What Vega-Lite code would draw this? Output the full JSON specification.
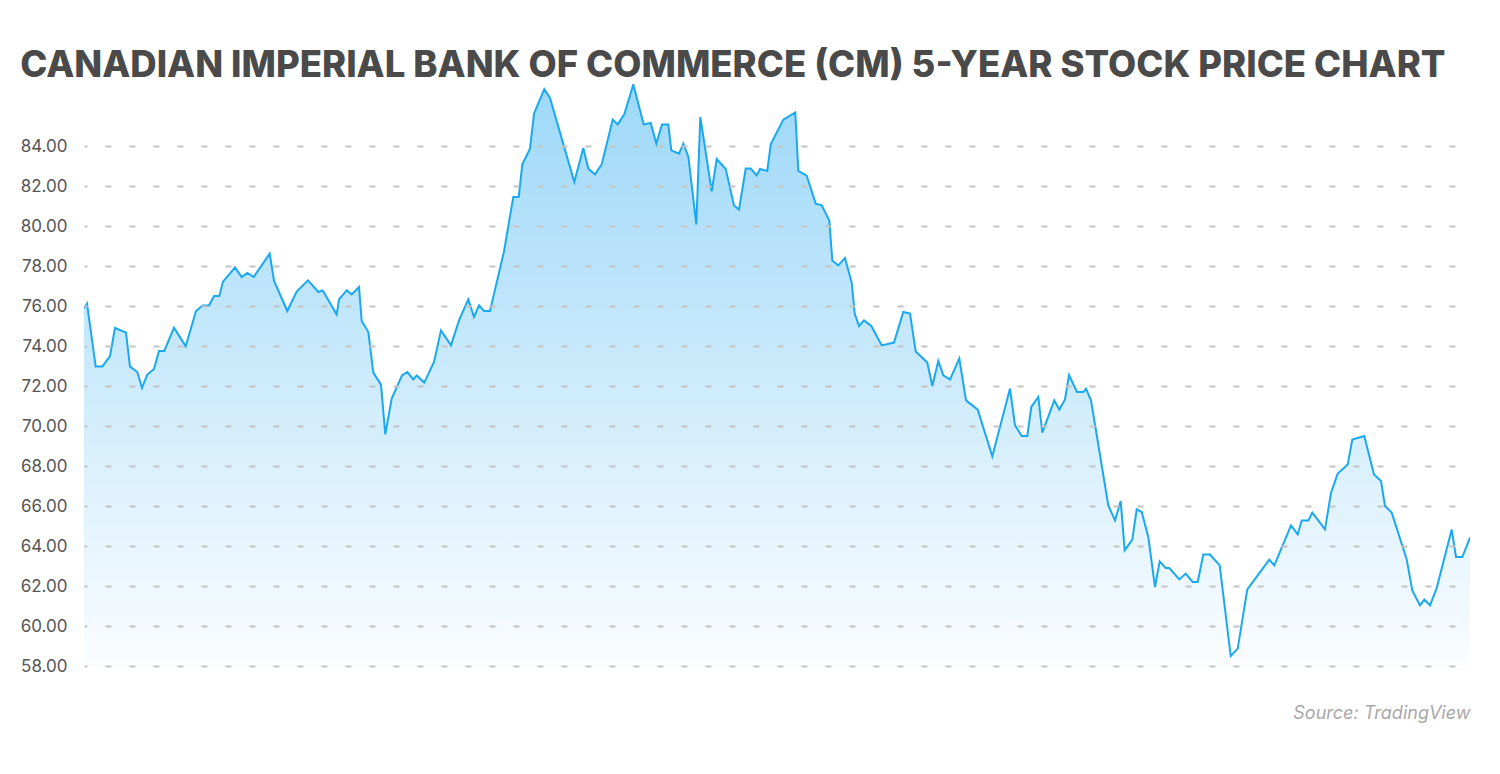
{
  "$schema": "https://vega.github.io/schema/vega-lite/v6.json",
  "autosize": {"type": "none"},
  "width": 1386,
  "height": 582,
  "padding": {"left": 84, "top": 84, "right": 30, "bottom": 108},
  "background": "#ffffff",
  "title": {
    "text": "CANADIAN IMPERIAL BANK OF COMMERCE (CM) 5-YEAR STOCK PRICE CHART",
    "anchor": "start",
    "frame": "bounds",
    "font": "Inter",
    "fontSize": 36.5,
    "fontWeight": 800,
    "color": "#4a4a4a",
    "offset": 0
  },
  "config": {
    "view": {"stroke": null},
    "axis": {"labelFont": "Inter", "titleFont": "Inter"}
  },
  "data": {
    "values": [
      {"t": 84, "price": 75.87}, {"t": 87, "price": 76.12}, {"t": 95.7, "price": 72.97}, {"t": 102.3, "price": 72.97},
      {"t": 110, "price": 73.5}, {"t": 115, "price": 74.9}, {"t": 126, "price": 74.67}, {"t": 130, "price": 72.97},
      {"t": 137.3, "price": 72.7}, {"t": 142, "price": 71.9}, {"t": 147.3, "price": 72.57}, {"t": 154, "price": 72.85},
      {"t": 159, "price": 73.75}, {"t": 164.3, "price": 73.75}, {"t": 174, "price": 74.92}, {"t": 185.7, "price": 73.98},
      {"t": 196, "price": 75.75}, {"t": 202.7, "price": 76.03}, {"t": 209, "price": 76.03}, {"t": 214, "price": 76.5},
      {"t": 219.3, "price": 76.5}, {"t": 223, "price": 77.22}, {"t": 235, "price": 77.93}, {"t": 241.7, "price": 77.45},
      {"t": 247.3, "price": 77.65}, {"t": 253.7, "price": 77.45}, {"t": 269.7, "price": 78.62}, {"t": 274, "price": 77.27},
      {"t": 287.3, "price": 75.75}, {"t": 296.7, "price": 76.72}, {"t": 308, "price": 77.28}, {"t": 318.3, "price": 76.7},
      {"t": 322.7, "price": 76.78}, {"t": 336.7, "price": 75.57}, {"t": 339, "price": 76.33}, {"t": 346.7, "price": 76.78},
      {"t": 351.7, "price": 76.58}, {"t": 359, "price": 76.95}, {"t": 361.7, "price": 75.25}, {"t": 368.3, "price": 74.7},
      {"t": 373.3, "price": 72.67}, {"t": 381, "price": 72.07}, {"t": 385.3, "price": 69.58}, {"t": 391.7, "price": 71.37},
      {"t": 402, "price": 72.53}, {"t": 407.3, "price": 72.7}, {"t": 413.3, "price": 72.33}, {"t": 416.7, "price": 72.53},
      {"t": 424.3, "price": 72.17}, {"t": 434, "price": 73.2}, {"t": 441, "price": 74.78}, {"t": 451, "price": 74.03},
      {"t": 459, "price": 75.28}, {"t": 468.3, "price": 76.33}, {"t": 474, "price": 75.45}, {"t": 479, "price": 76.03},
      {"t": 484, "price": 75.75}, {"t": 490, "price": 75.75}, {"t": 504, "price": 78.73}, {"t": 513.3, "price": 81.45},
      {"t": 518.7, "price": 81.45}, {"t": 522.3, "price": 83.08}, {"t": 530, "price": 83.87}, {"t": 534, "price": 85.62},
      {"t": 544.3, "price": 86.84}, {"t": 550, "price": 86.4}, {"t": 574.3, "price": 82.2}, {"t": 583.3, "price": 83.9},
      {"t": 588.3, "price": 82.87}, {"t": 595, "price": 82.58}, {"t": 601.7, "price": 83.08}, {"t": 612.7, "price": 85.32},
      {"t": 617.7, "price": 85.08}, {"t": 624.3, "price": 85.58}, {"t": 633.3, "price": 87.08}, {"t": 643.7, "price": 85.08},
      {"t": 650.7, "price": 85.15}, {"t": 656.3, "price": 84.12}, {"t": 662, "price": 85.08}, {"t": 668.3, "price": 85.08},
      {"t": 671.3, "price": 83.78}, {"t": 679, "price": 83.62}, {"t": 683.3, "price": 84.12}, {"t": 688.3, "price": 83.48},
      {"t": 696.3, "price": 80.08}, {"t": 700.3, "price": 85.45}, {"t": 711.7, "price": 81.73}, {"t": 716.7, "price": 83.35},
      {"t": 725.7, "price": 82.85}, {"t": 734, "price": 81.03}, {"t": 739, "price": 80.82}, {"t": 745.7, "price": 82.87},
      {"t": 750.7, "price": 82.87}, {"t": 756.7, "price": 82.53}, {"t": 760, "price": 82.85}, {"t": 767.3, "price": 82.75},
      {"t": 770.7, "price": 84.08}, {"t": 783.3, "price": 85.32}, {"t": 795.3, "price": 85.68}, {"t": 798.3, "price": 82.75},
      {"t": 806.7, "price": 82.52}, {"t": 815.7, "price": 81.12}, {"t": 821.7, "price": 81.03}, {"t": 829.3, "price": 80.28},
      {"t": 832.3, "price": 78.28}, {"t": 838.3, "price": 78.03}, {"t": 845, "price": 78.4}, {"t": 851.7, "price": 77.17},
      {"t": 854.7, "price": 75.62}, {"t": 859, "price": 75.0}, {"t": 864, "price": 75.28}, {"t": 871.3, "price": 75.0},
      {"t": 881.7, "price": 74.03}, {"t": 894, "price": 74.17}, {"t": 903.3, "price": 75.7}, {"t": 910, "price": 75.62},
      {"t": 915.7, "price": 73.73}, {"t": 927.3, "price": 73.17}, {"t": 932.3, "price": 72.0}, {"t": 938.3, "price": 73.25},
      {"t": 943.3, "price": 72.53}, {"t": 950, "price": 72.32}, {"t": 959.3, "price": 73.37}, {"t": 966, "price": 71.28},
      {"t": 977.7, "price": 70.82}, {"t": 992.3, "price": 68.48}, {"t": 1010, "price": 71.87}, {"t": 1015, "price": 70.03},
      {"t": 1021.7, "price": 69.5}, {"t": 1027.3, "price": 69.5}, {"t": 1031.3, "price": 70.95}, {"t": 1038.3, "price": 71.45},
      {"t": 1042.3, "price": 69.67}, {"t": 1054.3, "price": 71.28}, {"t": 1059.3, "price": 70.82}, {"t": 1065, "price": 71.33},
      {"t": 1069, "price": 72.55}, {"t": 1077, "price": 71.7}, {"t": 1083.3, "price": 71.7}, {"t": 1086, "price": 71.87},
      {"t": 1091, "price": 71.28}, {"t": 1108.3, "price": 66.03}, {"t": 1115, "price": 65.28}, {"t": 1120.7, "price": 66.25},
      {"t": 1124.7, "price": 63.78}, {"t": 1132.3, "price": 64.32}, {"t": 1136.7, "price": 65.83}, {"t": 1141.7, "price": 65.7},
      {"t": 1148.3, "price": 64.45}, {"t": 1155, "price": 61.95}, {"t": 1159.7, "price": 63.23}, {"t": 1165.7, "price": 62.9},
      {"t": 1169.3, "price": 62.9}, {"t": 1179.3, "price": 62.33}, {"t": 1185.7, "price": 62.62}, {"t": 1192.7, "price": 62.2},
      {"t": 1197.7, "price": 62.2}, {"t": 1203.3, "price": 63.57}, {"t": 1210, "price": 63.57}, {"t": 1219.7, "price": 63.03},
      {"t": 1230.7, "price": 58.5}, {"t": 1237.7, "price": 58.87}, {"t": 1247.3, "price": 61.83}, {"t": 1269.3, "price": 63.32},
      {"t": 1274.3, "price": 63.03}, {"t": 1291, "price": 65.03}, {"t": 1297.7, "price": 64.58}, {"t": 1301.7, "price": 65.28},
      {"t": 1308.3, "price": 65.28}, {"t": 1312.3, "price": 65.67}, {"t": 1325, "price": 64.83}, {"t": 1331, "price": 66.65},
      {"t": 1337.7, "price": 67.62}, {"t": 1347.7, "price": 68.07}, {"t": 1352.3, "price": 69.32}, {"t": 1364.3, "price": 69.5},
      {"t": 1374, "price": 67.58}, {"t": 1381, "price": 67.25}, {"t": 1385, "price": 66.0}, {"t": 1391.7, "price": 65.67},
      {"t": 1406.7, "price": 63.33}, {"t": 1412.3, "price": 61.78}, {"t": 1420, "price": 61.03}, {"t": 1424.3, "price": 61.32},
      {"t": 1430, "price": 61.03}, {"t": 1436.7, "price": 61.9}, {"t": 1451.7, "price": 64.82}, {"t": 1456, "price": 63.45},
      {"t": 1462.3, "price": 63.45}, {"t": 1470, "price": 64.42}
    ]
  },
  "encoding": {
    "x": {
      "field": "t",
      "type": "quantitative",
      "scale": {"domain": [84, 1470], "nice": false, "zero": false},
      "axis": {
        "title": "Source: TradingView",
        "titleAnchor": "end",
        "titleFont": "Inter",
        "titleFontSize": 18,
        "titleFontWeight": "normal",
        "titleFontStyle": "italic",
        "titleColor": "#a8a8a8",
        "titlePadding": 38,
        "labels": false,
        "ticks": false,
        "domain": false,
        "grid": false
      }
    },
    "y": {
      "field": "price",
      "type": "quantitative",
      "scale": {"domain": [58, 87.1], "nice": false, "zero": false},
      "axis": {
        "title": null,
        "zindex": 1,
        "values": [58, 60, 62, 64, 66, 68, 70, 72, 74, 76, 78, 80, 82, 84],
        "format": ".2f",
        "labelFontSize": 17,
        "labelColor": "#555555",
        "labelPadding": 17,
        "ticks": false,
        "domain": false,
        "grid": true,
        "gridColor": "#c4c4c4",
        "gridWidth": 2,
        "gridDash": [6, 18],
        "gridDashOffset": 3
      }
    }
  },
  "layer": [
    {
      "mark": {
        "type": "area",
        "clip": true,
        "color": {
          "gradient": "linear",
          "x1": 0, "y1": 0, "x2": 0, "y2": 1,
          "stops": [
            {"offset": 0, "color": "#9dd8f8"},
            {"offset": 1, "color": "#fbfdff"}
          ]
        }
      },
      "encoding": {"y2": {"datum": 58}}
    },
    {
      "mark": {"type": "line", "clip": true, "color": "#1aa9f0", "strokeWidth": 2}
    }
  ]
}
